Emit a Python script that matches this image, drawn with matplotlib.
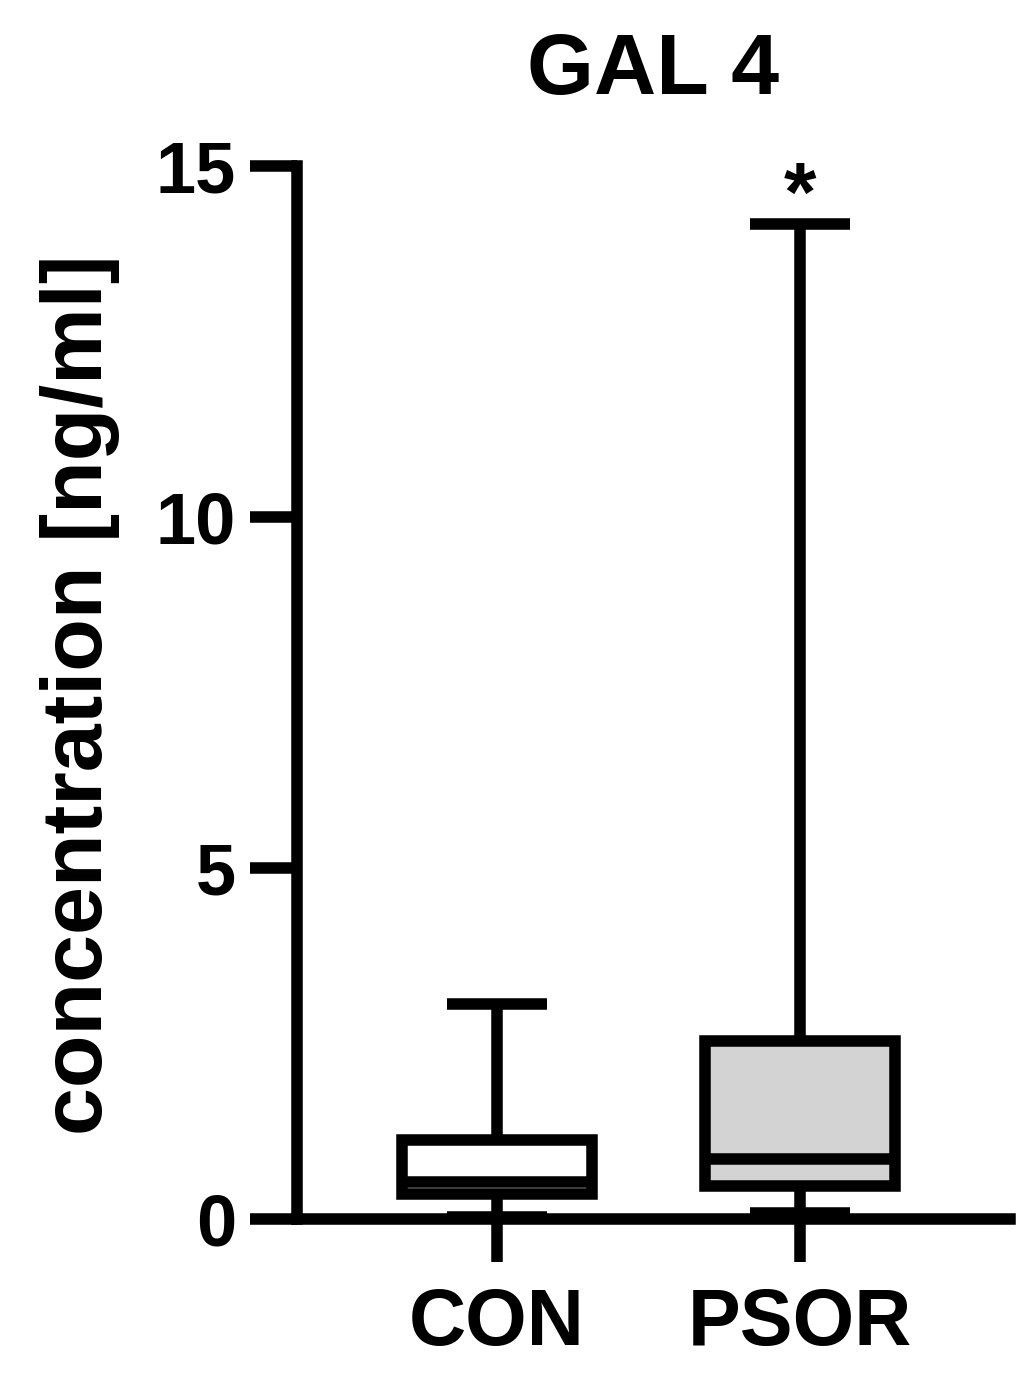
import matplotlib
matplotlib.use("Agg")
import matplotlib.pyplot as plt

categories = ["CON", "PSOR"]
whislo = [0.03, 0.09]
q1 = [0.35, 0.47]
med = [0.53, 0.86]
q3 = [1.12, 2.54]
whishi = [3.06, 14.17]
box_colors = ["#ffffff", "#d3d3d3"]
yticks = [0, 5, 10, 15]
title = "GAL 4"
ylabel = "concentration [ng/ml]"
significance = ["", "*"]

plt.rcParams['font.family'] = ['Liberation Sans', 'DejaVu Sans']
plt.rcParams['font.weight'] = 'bold'

fig = plt.figure(figsize=(10.22, 13.75), dpi=100)
ax = fig.add_axes([0.2906, 0.1135, 0.6977, 0.7658])

lw = 8.3
stats = []
for i, c in enumerate(categories):
    stats.append(dict(label=c, whislo=whislo[i], q1=q1[i], med=med[i], q3=q3[i], whishi=whishi[i], fliers=[]))

bp = ax.bxp(stats, positions=[1, 2], widths=0.627, capwidths=0.33, showfliers=False,
            patch_artist=True,
            boxprops=dict(linewidth=lw, edgecolor='black', joinstyle='miter'),
            medianprops=dict(linewidth=lw, color='black', solid_capstyle='butt'),
            whiskerprops=dict(linewidth=lw, color='black', solid_capstyle='butt'),
            capprops=dict(linewidth=lw, color='black', solid_capstyle='butt'))
for patch, col in zip(bp['boxes'], box_colors):
    patch.set_facecolor(col)

for i, s in enumerate(significance):
    if s:
        ax.annotate(s, xy=(i + 1, whishi[i]), xytext=(0, -10), textcoords='offset points',
                    ha='center', va='bottom', fontsize=60, fontweight='bold')

ax.set_xlim(0.340, 2.693)
ax.set_ylim(0, 15)
ax.set_yticks(yticks)
ax.set_yticklabels([str(t) for t in yticks])
ax.set_xticks([1, 2])
ax.set_xticklabels(categories)

for side in ['top', 'right']:
    ax.spines[side].set_visible(False)
for side in ['left', 'bottom']:
    ax.spines[side].set_linewidth(lw)
    ax.spines[side].set_capstyle('projecting')

ax.tick_params(axis='y', length=34, width=lw, labelsize=52, pad=10)
ax.tick_params(axis='x', length=31, width=lw, labelsize=57, pad=18)
for lab in ax.get_xticklabels() + ax.get_yticklabels():
    lab.set_fontweight('bold')

ax.set_title(title, fontsize=62, fontweight='bold', pad=52)
fig.text(80 / 1022, 0.4945, ylabel, rotation=90, ha='center', va='center',
         fontsize=62, fontweight='bold')

fig.savefig("out.png", dpi=100)
